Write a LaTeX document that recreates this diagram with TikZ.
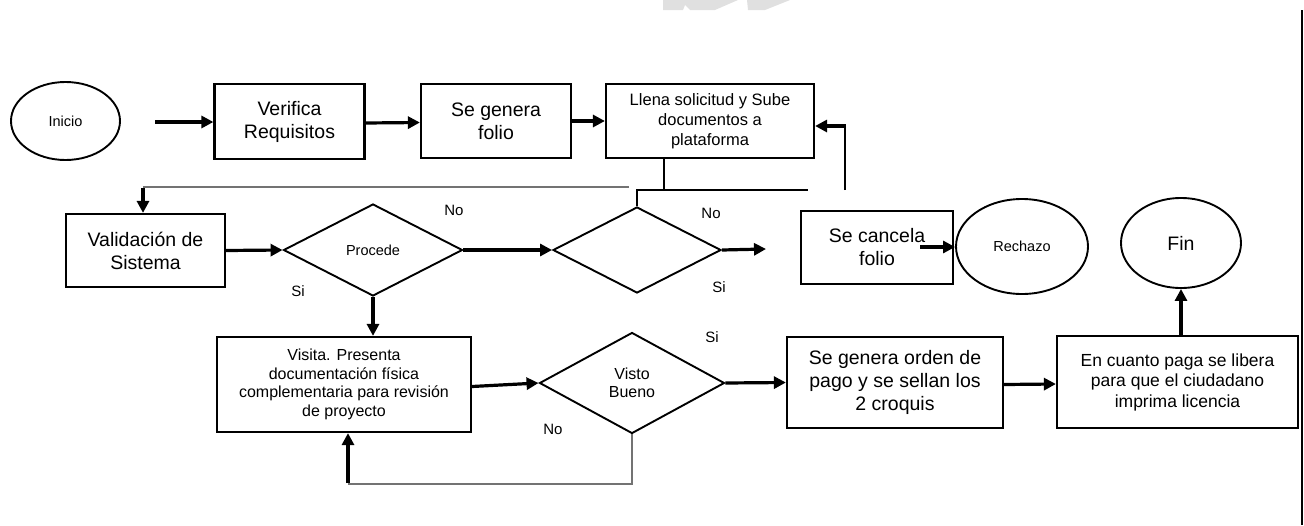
\documentclass[tikz,border=0pt]{standalone}
\usepackage{fontspec}
\setmainfont{Liberation Sans}
\usetikzlibrary{shapes.geometric,arrows.meta}
\begin{document}
\begin{tikzpicture}[x=1pt,y=-1pt,
  box/.style={draw,line width=2.2pt,rectangle,inner sep=0pt,align=center},
  oval/.style={draw,line width=1.9pt,ellipse,inner sep=0pt,align=center},
  dia/.style={draw,line width=1.9pt,diamond,inner sep=0pt,align=center},
  arr/.style={line width=3.2pt,-{Triangle[length=12pt,width=12pt]}},
  thinline/.style={line width=1.3pt},
  grayline/.style={line width=1.6pt,draw=black!55},
  lbl/.style={inner sep=0pt,font=\fontsize{15}{17}\selectfont},
  big/.style={font=\fontsize{19.5}{23}\selectfont},
  mid/.style={font=\fontsize{16.5}{20}\selectfont},
  small/.style={font=\fontsize{14.5}{17}\selectfont}
]
\useasboundingbox (0,0) rectangle (1304,525);
% watermark fragment
\fill[black!12] (663,0) -- (738,0) -- (715,10) -- (690,10) -- (685,5) -- (683,10) -- (663,10) -- cycle;
\fill[black!12] (747,0) -- (790,0) -- (765,10) -- (748,10) -- cycle;
% right border line
\draw[line width=2.4pt] (1302,10) -- (1302,525);

% nodes
\node[oval,small,minimum width=109,minimum height=78] (inicio) at (65.5,121) {Inicio};
\node[box,big,minimum width=150,minimum height=75] (verifica) at (289.5,121.5) {Verifica\\Requisitos};
\node[box,big,minimum width=150,minimum height=74] (folio) at (496,121) {Se genera\\folio};
\node[box,mid,minimum width=208,minimum height=74] (llena) at (710,121) {Llena solicitud y Sube\\documentos a\\plataforma};
\node[box,big,minimum width=159,minimum height=73] (valid) at (145.5,250.5) {Validación de\\Sistema};
\node[dia,small,minimum width=179,minimum height=92,aspect=1.95] (procede) at (373,250) {Procede};
\node[dia,minimum width=168,minimum height=86,aspect=1.95] (dos) at (637,250) {};
\node[box,big,minimum width=152,minimum height=73] (cancela) at (877,247.5) {Se cancela\\folio};
\node[oval,small,minimum width=132,minimum height=95] (rechazo) at (1022,246.5) {Rechazo};
\node[oval,big,minimum width=120,minimum height=90] (fin) at (1181,243) {Fin};
\node[box,mid,minimum width=254,minimum height=95,font=\fontsize{16}{18.5}\selectfont] (visita) at (344,384.5) {Visita. Presenta\\documentación física\\complementaria para revisión\\de proyecto};
\node[dia,mid,minimum width=185,minimum height=101,aspect=1.83,font=\fontsize{16}{18.5}\selectfont] (visto) at (632,383) {Visto\\Bueno};
\node[box,big,minimum width=216,minimum height=91] (orden) at (895,382.5) {Se genera orden de\\pago y se sellan los\\2 croquis};
\node[box,minimum width=241,minimum height=92,font=\fontsize{17.5}{20.5}\selectfont] (cuanto) at (1177.5,382) {En cuanto paga se libera\\para que el ciudadano\\imprima licencia};

% labels
\node[lbl] (no1) at (454,210) {No};
\node[lbl] (si1) at (298,291) {Si};
\node[lbl] (no2) at (711,213) {No};
\node[lbl] (si2) at (719,287) {Si};
\node[lbl] (si3) at (712,337) {Si};
\node[lbl] (no3) at (553,429) {No};

% coordinates
\coordinate (s0) at (155,122);
\coordinate (r1) at (845,190);
\coordinate (r2) at (845,126);
\coordinate (l1) at (664,190);
\coordinate (h1) at (808,190);
\coordinate (g1) at (629,187);
\coordinate (g2) at (143,187);
\coordinate (e1) at (766,249);
\coordinate (c1) at (920,247);
\coordinate (b1) at (632,484);
\coordinate (b2) at (348,484);

% connectors
\draw[arr] (s0) -- (verifica.west |- s0);
\draw[arr] ([yshift=-1.5]verifica.east) -- ([yshift=-1.5]folio.west);
\draw[arr] (folio.east) -- (llena.west);
\draw[thinline] (r1) -- (r2);
\draw[arr] ([xshift=1]r2) -- (llena.east |- r2);
\draw[thinline] (l1 |- llena.south) -- (l1);
\draw[thinline] (dos.north) -- (dos.north |- h1) -- (h1);
\draw[grayline] (g1) -- (g2);
\draw[arr] ([yshift=-0.8]g2) -- (g2 |- valid.north);
\draw[arr] (valid.east) -- (procede.west);
\draw[arr] (procede.east) -- (dos.west);
\draw[arr] (dos.east) -- (e1);
\draw[arr] (c1) -- (rechazo.west |- c1);
\draw[arr] (procede.south) -- (procede.south |- visita.north);
\draw[arr] ([yshift=-2]visita.east) -- (visto.west);
\draw[arr] (visto.east) -- (orden.west);
\draw[arr] ([yshift=-2]orden.east) -- ([yshift=-2]cuanto.west);
\draw[arr] (fin.south |- cuanto.north) -- (fin.south);
\draw[grayline] (visto.south) -- (b1) -- (b2);
\draw[arr] ([yshift=0.8]b2) -- (b2 |- visita.south);
\end{tikzpicture}
\end{document}
